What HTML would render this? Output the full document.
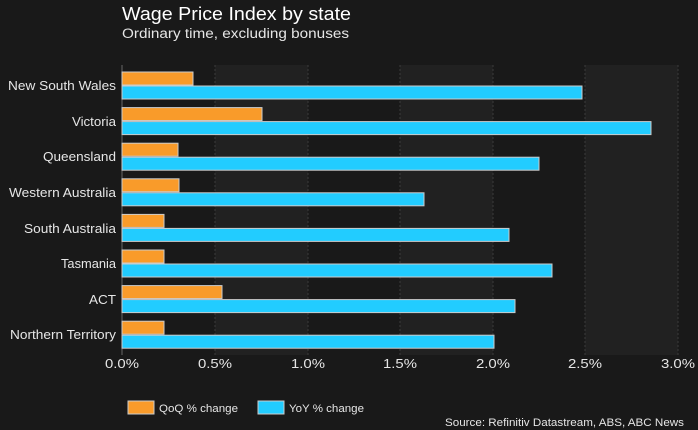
<!DOCTYPE html>
<html><head><style>
body{margin:0;background:#191919;}
svg{display:block;font-family:"Liberation Sans",sans-serif;}
</style></head><body>
<svg width="698" height="430" xmlns="http://www.w3.org/2000/svg">
<rect width="698" height="430" fill="#191919"/>
<text x="122" y="20" fill="#fff" font-size="18" textLength="229" lengthAdjust="spacingAndGlyphs">Wage Price Index by state</text>
<text x="122" y="38" fill="#e6e6e6" font-size="13.5" textLength="227" lengthAdjust="spacingAndGlyphs">Ordinary time, excluding bonuses</text>
<g fill="#212121">
<rect x="215" y="65" width="93" height="290"/>
<rect x="400" y="65" width="93" height="290"/>
<rect x="585" y="65" width="93" height="290"/>
</g>
<g stroke="#3a3a3a" stroke-dasharray="2,2" stroke-width="1">
<line x1="215" y1="65" x2="215" y2="355"/><line x1="308" y1="65" x2="308" y2="355"/>
<line x1="400" y1="65" x2="400" y2="355"/><line x1="493" y1="65" x2="493" y2="355"/>
<line x1="585" y1="65" x2="585" y2="355"/><line x1="678" y1="65" x2="678" y2="355"/>
</g>
<line x1="122" y1="65" x2="122" y2="355" stroke="#666" stroke-width="1"/>
<g stroke="#ccc" stroke-width="1">
<rect x="122" y="72" width="71" height="13" fill="#f99b2a"/><rect x="122" y="86" width="460" height="13" fill="#22ccff"/>
<rect x="122" y="107.6" width="140" height="13" fill="#f99b2a"/><rect x="122" y="121.6" width="529" height="13" fill="#22ccff"/>
<rect x="122" y="143.2" width="56" height="13" fill="#f99b2a"/><rect x="122" y="157.2" width="417" height="13" fill="#22ccff"/>
<rect x="122" y="178.8" width="57" height="13" fill="#f99b2a"/><rect x="122" y="192.8" width="302" height="13" fill="#22ccff"/>
<rect x="122" y="214.4" width="42" height="13" fill="#f99b2a"/><rect x="122" y="228.4" width="387" height="13" fill="#22ccff"/>
<rect x="122" y="250" width="42" height="13" fill="#f99b2a"/><rect x="122" y="264" width="430" height="13" fill="#22ccff"/>
<rect x="122" y="285.6" width="100" height="13" fill="#f99b2a"/><rect x="122" y="299.6" width="393" height="13" fill="#22ccff"/>
<rect x="122" y="321.2" width="42" height="13" fill="#f99b2a"/><rect x="122" y="335.2" width="372" height="13" fill="#22ccff"/>
</g>
<g fill="#e6e6e6" font-size="13" text-anchor="end">
<text x="116" y="90" textLength="108" lengthAdjust="spacingAndGlyphs">New South Wales</text>
<text x="116" y="126" textLength="44" lengthAdjust="spacingAndGlyphs">Victoria</text>
<text x="116" y="161" textLength="73" lengthAdjust="spacingAndGlyphs">Queensland</text>
<text x="116" y="197" textLength="107" lengthAdjust="spacingAndGlyphs">Western Australia</text>
<text x="116" y="233" textLength="92" lengthAdjust="spacingAndGlyphs">South Australia</text>
<text x="116" y="268" textLength="55" lengthAdjust="spacingAndGlyphs">Tasmania</text>
<text x="116" y="304" textLength="27" lengthAdjust="spacingAndGlyphs">ACT</text>
<text x="116" y="339" textLength="106" lengthAdjust="spacingAndGlyphs">Northern Territory</text>
</g>
<g fill="#e6e6e6" font-size="13" text-anchor="middle">
<text x="122" y="368" textLength="34" lengthAdjust="spacingAndGlyphs">0.0%</text><text x="215" y="368" textLength="34" lengthAdjust="spacingAndGlyphs">0.5%</text><text x="308" y="368" textLength="34" lengthAdjust="spacingAndGlyphs">1.0%</text>
<text x="400" y="368" textLength="34" lengthAdjust="spacingAndGlyphs">1.5%</text><text x="493" y="368" textLength="34" lengthAdjust="spacingAndGlyphs">2.0%</text><text x="585" y="368" textLength="34" lengthAdjust="spacingAndGlyphs">2.5%</text><text x="678" y="368" textLength="34" lengthAdjust="spacingAndGlyphs">3.0%</text>
</g>
<rect x="128" y="401" width="26" height="13" fill="#f99b2a" stroke="#ccc"/>
<text x="159" y="412" fill="#e6e6e6" font-size="11" textLength="79" lengthAdjust="spacingAndGlyphs">QoQ % change</text>
<rect x="258" y="401" width="26" height="13" fill="#22ccff" stroke="#ccc"/>
<text x="289" y="412" fill="#e6e6e6" font-size="11" textLength="75" lengthAdjust="spacingAndGlyphs">YoY % change</text>
<text x="684" y="426" fill="#e6e6e6" font-size="11" text-anchor="end" textLength="239" lengthAdjust="spacingAndGlyphs">Source: Refinitiv Datastream, ABS, ABC News</text>
</svg>
</body></html>
